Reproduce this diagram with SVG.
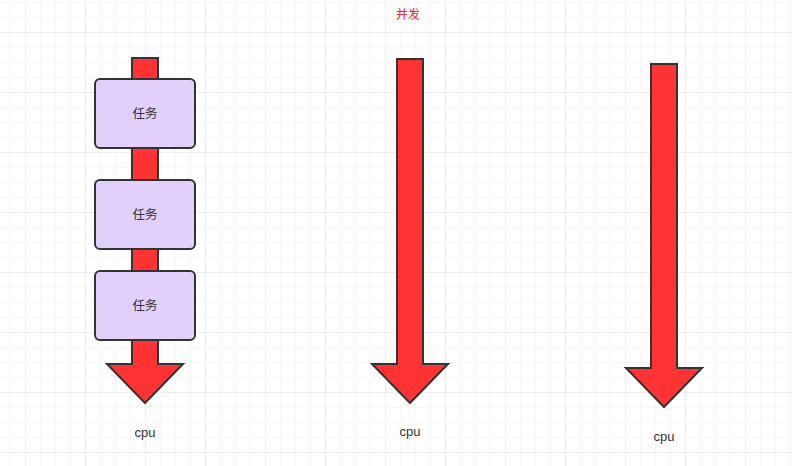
<svg xmlns="http://www.w3.org/2000/svg" width="792" height="466" viewBox="0 0 792 466">
<defs>
<pattern id="minor" x="10" y="2" width="15" height="15" patternUnits="userSpaceOnUse">
<path d="M0 0H15M0 0V15" fill="none" stroke="#f0f0f0" stroke-width="1"/>
</pattern>
<pattern id="major" x="25" y="32" width="60" height="60" patternUnits="userSpaceOnUse">
<path d="M0 0H60M0 0V60" fill="none" stroke="#e3e3e3" stroke-width="1"/>
</pattern>
</defs>
<style>
.arrow{fill:#ff3333;stroke:#333333;stroke-width:2;stroke-linejoin:miter}
.task rect{fill:#e0d0fb;stroke:#333333;stroke-width:2}
.lbl{font-family:"Noto Sans CJK SC","Liberation Sans",sans-serif;font-size:12.5px;fill:#333333;text-anchor:middle}
.cpu{font-family:"Liberation Sans",sans-serif;font-size:13px;fill:#333333;text-anchor:middle}
.title{font-family:"Noto Sans CJK SC",sans-serif;font-size:12px;fill:#e8222b;text-anchor:middle}
</style>
<rect width="792" height="466" fill="#ffffff"/>
<rect width="792" height="466" fill="url(#minor)"/>
<rect width="792" height="466" fill="url(#major)"/>
<text class="title" x="408" y="19">并发</text>
<g id="connectors">
<path id="arrow1" class="arrow" d="M132 58H158V364H183L145 403L107 364H132Z"/>
<path id="arrow2" class="arrow" d="M397 59H423V364H448L410 403L372 364H397Z"/>
<path id="arrow3" class="arrow" d="M651 64H677V368H702L664 407L626 368H651Z"/>
</g>
<g id="task1" class="task">
<rect x="95" y="79" width="100" height="69" rx="5"/>
<text class="lbl" x="145" y="118">任务</text>
</g>
<g id="task2" class="task">
<rect x="95" y="180" width="100" height="69" rx="5"/>
<text class="lbl" x="145" y="219">任务</text>
</g>
<g id="task3" class="task">
<rect x="95" y="271" width="100" height="69" rx="5"/>
<text class="lbl" x="145" y="310">任务</text>
</g>
<g id="cpu1"><text class="cpu" x="145" y="437">cpu</text></g>
<g id="cpu2"><text class="cpu" x="410" y="436">cpu</text></g>
<g id="cpu3"><text class="cpu" x="664" y="441">cpu</text></g>
</svg>
